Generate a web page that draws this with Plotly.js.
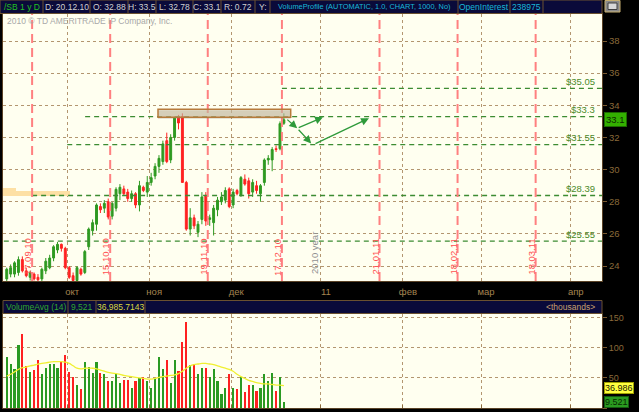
<!DOCTYPE html>
<html><head><meta charset="utf-8">
<script src="https://cdn.plot.ly/plotly-3.0.1.min.js"></script>
<style>html,body{margin:0;padding:0;background:#000;}#chart{width:639px;height:412px;}</style>
</head><body><div id="chart"></div>
<script>
// ---------- data ----------
const dates = ['2010-09-09','2010-09-10','2010-09-13','2010-09-14','2010-09-15','2010-09-16','2010-09-17','2010-09-20','2010-09-21','2010-09-22','2010-09-23','2010-09-24','2010-09-27','2010-09-28','2010-09-29','2010-09-30',
'2010-10-01','2010-10-04','2010-10-05','2010-10-06','2010-10-07','2010-10-08','2010-10-11','2010-10-12','2010-10-13','2010-10-14','2010-10-15','2010-10-18','2010-10-19','2010-10-20','2010-10-21','2010-10-22','2010-10-25','2010-10-26','2010-10-27','2010-10-28','2010-10-29',
'2010-11-01','2010-11-02','2010-11-03','2010-11-04','2010-11-05','2010-11-08','2010-11-09','2010-11-10','2010-11-11','2010-11-12','2010-11-15','2010-11-16','2010-11-17','2010-11-18','2010-11-19','2010-11-22','2010-11-23','2010-11-24','2010-11-26','2010-11-29','2010-11-30',
'2010-12-01','2010-12-02','2010-12-03','2010-12-06','2010-12-07','2010-12-08','2010-12-09','2010-12-10','2010-12-13','2010-12-14','2010-12-15','2010-12-16','2010-12-17','2010-12-20'];
const open = [23.2,23.5,23.5,23.6,24.4,23.7,23.3,23.5,23.3,23.2,23.7,23.9,24.5,25.0,25.35,25.1,
23.9,23.4,23.1,23.8,23.6,25.2,26.2,26.6,27.7,27.6,28.0,27.1,27.6,28.5,28.8,28.6,28.2,28.5,27.8,28.9,28.6,
29.2,29.6,30.2,30.5,31.8,30.6,32.0,33.2,33.3,29.2,26.3,27.0,26.1,26.9,28.4,26.9,26.7,27.5,28.0,28.1,28.8,
27.8,28.7,28.4,29.4,29.3,28.6,29.0,28.5,29.2,30.6,30.6,31.3,31.3,32.88];
const high = [23.9,24.1,24.3,24.6,24.6,23.9,23.7,23.6,23.5,23.9,24.5,24.7,25.3,25.5,25.4,25.2,
24.0,23.6,24.0,23.9,25.0,26.4,26.9,27.9,27.9,28.1,28.2,28.0,28.9,29.1,29.0,28.8,28.7,28.6,29.3,29.0,29.6,
29.8,30.4,30.9,31.8,32.3,32.2,33.3,33.4,33.5,29.3,27.6,27.2,26.8,28.6,28.6,27.2,27.8,28.3,28.6,28.9,28.9,
28.8,28.8,29.6,29.7,29.5,29.4,29.3,29.1,30.7,30.9,31.4,31.5,33.0,33.5];
const low = [23.0,23.3,23.3,23.4,23.6,23.3,23.1,23.1,23.0,23.0,23.5,23.8,24.3,24.8,24.9,23.8,
23.2,23.0,23.0,23.4,23.5,25.0,25.9,26.2,27.3,27.3,26.9,26.9,27.4,28.1,28.4,28.0,28.0,27.6,27.4,28.6,28.3,
29.0,29.4,29.8,30.3,30.4,30.4,31.8,32.5,29.2,26.2,25.9,26.3,25.8,26.6,26.5,26.5,25.9,27.1,27.8,27.9,27.6,
27.6,28.4,28.3,29.0,28.2,28.3,28.5,28.0,29.0,30.3,29.9,31.1,31.2,32.78];
const close = [23.8,23.9,24.2,24.4,23.7,23.4,23.6,23.2,23.15,23.8,24.3,24.5,25.2,25.35,25.1,23.9,
23.3,23.1,23.9,23.5,24.9,26.3,26.7,27.8,27.5,27.9,27.05,27.9,28.77,28.9,28.5,28.2,28.5,27.8,29.0,28.7,29.2,
29.5,30.2,30.7,31.6,30.5,32.0,33.2,32.9,29.2,26.3,27.0,26.5,26.6,28.3,26.8,27.0,27.6,28.1,28.3,28.7,27.7,
28.6,28.5,29.5,29.1,28.5,29.2,28.7,29.0,30.6,30.7,31.25,31.25,32.86,33.1];
const volume = [84,73,65,105,122,70,60,63,80,57,67,73,73,67,76,88,
59,51,38,32,76,68,58,76,58,56,44,44,57,42,47,47,34,44,50,51,44,
34,50,84,64,79,41,79,61,109,142,72,73,57,66,67,51,65,44,24,34,57,
34,32,52,27,38,38,28,34,57,45,58,28,51,9.521];
const volumeAvg = [53,56,60,64,67,68,70,71,73,74,75,76,77,77,77,76,
74,70,66,65,66,66,66,65,63,61,59,58,57,56,54,53,52,51,50,49,48,
48,49,51,52,53,54,55,57,61,66,70,72,73,74,74,73,72,70,68,66,64,
61,56,52,49,46,44,42,41,40,40,39,38,38,37];
const levels = [35.05, 33.3, 31.55, 28.39, 25.55];
const levelLabels = ['$35.05','$33.3','$31.55','$28.39','$25.55'];
const levelStarts = ['2010-12-20','2010-10-07 14:00','2010-10-01','2010-09-17 23:59','2010-09-08 18:00'];
const expiries = ['2010-09-17','2010-10-15','2010-11-19','2010-12-17','2011-01-21','2011-02-18','2011-03-18'];
const expiryLabels = ['17.09.10','15.10.10','19.11.10','17.12.10','21.01.11','18.02.11','18.03.11'];
const monthTicks = ['2010-10-01','2010-11-01','2010-12-01','2011-01-03','2011-02-01','2011-03-01','2011-04-01'];
const monthLabels = ['окт','ноя','дек','11','фев','мар','апр'];
const priceTicks = [24,26,28,30,32,34,36,38];
const volTicks = [0,50,100,150];
const profilePrice = [28.765, 28.505];
const profileSize = [2.2, 11.2];
const zoneLow = 33.25, zoneHigh = 33.75, zoneStart = '2010-11-03 06:00', zoneEnd = '2010-12-22 06:00';
// projected path arrows: [fromDate, fromPrice, toDate, toPrice]
const arrowFrom = [['2010-12-21 00:00',33.19],['2010-12-23 22:00',32.57],['2010-12-23 22:00',32.57],['2010-12-30 05:00',31.57]];
const arrowTo   = [['2010-12-23 22:00',32.57],['2011-01-03 12:00',33.25],['2010-12-29 12:00',31.63],['2011-01-19 07:00',33.19]];
const lastPrice = '33.1', avgLabel = '36.986', lastVolLabel = '9.521';

// ---------- geometry helpers (pixels -> paper) ----------
const W = 639, H = 412;
const X = p => p / W, Y = p => 1 - p / H;
const xRange = ['2010-09-08 13:00', '2011-04-13 00:00'];
const breaks = [{bounds: ['sat', 'mon']}, {values: ['2010-11-25']}];
const FONT = 'Liberation Sans, Arial, sans-serif';
const brown = '#a0804c';
const gridCol = '#b39670';

const xdates = dates.map(d => d + ' 12:00');

const traces = [
  {type: 'candlestick', x: xdates, open: open, high: high, low: low, close: close,
   xaxis: 'x', yaxis: 'y', whiskerwidth: 0,
   increasing: {line: {color: '#2f9a22', width: 1}, fillcolor: '#2f9a22'},
   decreasing: {line: {color: '#ff2222', width: 1}, fillcolor: '#ff2222'},
   hoverinfo: 'skip', showlegend: false},
  {type: 'bar', orientation: 'h', x: profileSize, y: profilePrice, width: [0.23, 0.29],
   xaxis: 'x3', yaxis: 'y', marker: {color: '#fde0a4', line: {width: 0}}, hoverinfo: 'skip', showlegend: false},
  {type: 'bar', x: xdates, y: volume, xaxis: 'x2', yaxis: 'y2', width: 0.55 * 86400000,
   marker: {color: close.map((c, i) => c >= open[i] ? '#2a9a22' : '#ff2020'), line: {width: 0}},
   hoverinfo: 'skip', showlegend: false},
  {type: 'scatter', mode: 'lines', x: xdates, y: volumeAvg, xaxis: 'x2', yaxis: 'y2',
   line: {color: '#f0f030', width: 1.3, shape: 'spline'}, hoverinfo: 'skip', showlegend: false}
];

const shapes = [];
const annotations = [];

// header bar
shapes.push({type: 'rect', xref: 'paper', yref: 'paper', x0: X(0), x1: X(602), y0: Y(0), y1: Y(13.5), fillcolor: '#0a0a3a', line: {color: '#6a5030', width: 1}, layer: 'above'});
[43, 90, 128, 156, 193, 221, 255, 270, 458, 510, 543].forEach(px => shapes.push({type: 'line', xref: 'paper', yref: 'paper', x0: X(px), x1: X(px), y0: Y(0), y1: Y(13.5), line: {color: '#6a5030', width: 1}, layer: 'above'}));
const headCells = [['/SB 1 y D', 22, '#22c022', 8.5], ['D: 20.12.10', 67, '#d0d0d0', 8.5], ['O: 32.88', 109, '#d0d0d0', 8.5], ['H: 33.5', 142, '#d0d0d0', 8.5], ['L: 32.78', 174.5, '#d0d0d0', 8.5], ['C: 33.1', 207, '#d0d0d0', 8.5], ['R: 0.72', 238, '#d0d0d0', 8.5], ['Y:', 262.5, '#d0d0d0', 8.5], ['VolumeProfile (AUTOMATIC, 1.0, CHART, 1000, No)', 364, '#18b8d8', 7.4], ['OpenInterest', 484, '#18b8d8', 8.5], ['238975', 526.5, '#18b8d8', 8.5]];
headCells.forEach(c => annotations.push({xref: 'paper', yref: 'paper', x: X(c[1]), y: Y(7), text: c[0], showarrow: false, xanchor: 'center', yanchor: 'middle', font: {family: FONT, size: c[3], color: c[2]}}));
// settings icon
shapes.push({type: 'rect', xref: 'paper', yref: 'paper', x0: X(605), x1: X(620), y0: Y(0.5), y1: Y(12), fillcolor: '#8a8a8a', line: {color: '#c8b070', width: 1}});
shapes.push({type: 'rect', xref: 'paper', yref: 'paper', x0: X(608), x1: X(617), y0: Y(3), y1: Y(9.5), fillcolor: '#d8d8d8', line: {color: '#404040', width: 1}});

// watermark
annotations.push({xref: 'paper', yref: 'paper', x: X(5), y: Y(21), text: '2010 © TD AMERITRADE IP Company, Inc.', showarrow: false, xanchor: 'left', yanchor: 'middle', font: {family: FONT, size: 8.5, color: '#a8a8a8'}});

// level lines
levels.forEach((lv, i) => {
  shapes.push({type: 'line', xref: 'x', yref: 'y', x0: levelStarts[i], x1: xRange[1], y0: lv, y1: lv, line: {color: '#3c8c32', width: 1.3, dash: '5px,4px'}});
  annotations.push({xref: 'paper', yref: 'y', x: X(597), y: lv, yshift: 7, text: levelLabels[i], showarrow: false, xanchor: 'right', yanchor: 'middle', font: {family: FONT, size: 9.5, color: '#4a8a2a'}});
});
// expiration lines
expiries.forEach((d, i) => {
  shapes.push({type: 'line', xref: 'x', yref: 'y domain', x0: d + ' 23:59', x1: d + ' 23:59', y0: 0, y1: 1, line: {color: '#ff8080', width: 2, dash: '9px,5px'}});
  annotations.push({xref: 'x', yref: 'paper', x: d + ' 23:59', xshift: -5, y: Y(257), text: expiryLabels[i], textangle: -90, showarrow: false, xanchor: 'center', yanchor: 'middle', font: {family: FONT, size: 9.5, color: '#ff5050'}});
});
annotations.push({xref: 'x', yref: 'paper', x: '2011-01-03', xshift: -6, y: Y(253), text: '2010 year', textangle: -90, showarrow: false, font: {family: FONT, size: 9.5, color: '#909090'}});

// zone rectangle
shapes.push({type: 'rect', xref: 'x', yref: 'y', x0: zoneStart, x1: zoneEnd, y0: zoneLow - 0.08, y1: zoneHigh - 0.08, fillcolor: 'rgba(120,110,90,0.25)', line: {width: 0}});
shapes.push({type: 'rect', xref: 'x', yref: 'y', x0: zoneStart, x1: zoneEnd, y0: zoneLow, y1: zoneHigh, fillcolor: 'rgba(205,195,170,0.55)', line: {color: '#b77a3a', width: 1.5}});

// arrows
arrowFrom.forEach((f, i) => annotations.push({xref: 'x', yref: 'y', axref: 'x', ayref: 'y', x: arrowTo[i][0], y: arrowTo[i][1], ax: f[0], ay: f[1], text: '', showarrow: true, arrowhead: 2, arrowsize: 1.2, arrowwidth: 1.3, arrowcolor: '#2e9a3a'}));

// price badge
annotations.push({xref: 'paper', yref: 'y', x: X(604), y: 33.1, text: lastPrice, showarrow: false, xanchor: 'left', yanchor: 'middle', bgcolor: '#33b000', bordercolor: '#1c6a00', borderwidth: 1, borderpad: 1, font: {family: FONT, size: 9.5, color: '#0c2a00'}});

// volume header
shapes.push({type: 'rect', xref: 'paper', yref: 'paper', x0: X(3), x1: X(602), y0: Y(300.5), y1: Y(313.5), fillcolor: '#0a0a3a', line: {color: '#6a5030', width: 1}});
[68, 96, 145].forEach(px => shapes.push({type: 'line', xref: 'paper', yref: 'paper', x0: X(px), x1: X(px), y0: Y(300.5), y1: Y(313.5), line: {color: '#6a5030', width: 1}}));
[['VolumeAvg (14)', 35.5, '#30a830', 'center'], ['9,521', 82, '#30a830', 'center'], ['36,985.7143', 120.5, '#d8d840', 'center'], ['<thousands>', 597, '#c8a070', 'right']].forEach(c =>
  annotations.push({xref: 'paper', yref: 'paper', x: X(c[1]), y: Y(307), text: c[0].replace('<', '&lt;').replace('>', '&gt;'), showarrow: false, xanchor: c[3], yanchor: 'middle', font: {family: FONT, size: 8.5, color: c[2]}}));
annotations.push({xref: 'paper', yref: 'y2', x: X(604), y: 36.986, yshift: -2, text: avgLabel, showarrow: false, xanchor: 'left', yanchor: 'middle', bgcolor: '#ffff40', bordercolor: '#a0a000', borderwidth: 1, borderpad: 0, font: {family: FONT, size: 9, color: '#202000'}});
annotations.push({xref: 'paper', yref: 'paper', x: X(604), y: Y(402), text: lastVolLabel, showarrow: false, xanchor: 'left', yanchor: 'middle', bgcolor: '#2a9a20', bordercolor: '#145a10', borderwidth: 1, borderpad: 0, font: {family: FONT, size: 9, color: '#062a00'}});

const layout = {
  width: W, height: H,
  margin: {l: 0, r: 0, t: 0, b: 0, pad: 0},
  paper_bgcolor: '#000000', plot_bgcolor: '#fffff0',
  showlegend: false, hovermode: false, dragmode: false,
  font: {family: FONT, color: brown},
  xaxis: {type: 'date', domain: [X(3), X(602)], range: xRange, rangebreaks: breaks, anchor: 'y',
    tickvals: monthTicks, ticktext: monthLabels, ticks: '', ticklabelshift: 5, ticklabelstandoff: 2,
    tickfont: {family: FONT, size: 9.5, color: '#a58450'},
    showgrid: true, gridcolor: gridCol, griddash: 'dot', gridwidth: 1,
    showline: true, mirror: true, linecolor: '#5a4226', linewidth: 1, zeroline: false,
    rangeslider: {visible: false}, fixedrange: true},
  yaxis: {domain: [Y(281), Y(14)], range: [23.07, 39.68], side: 'right', anchor: 'x',
    tickvals: priceTicks, ticks: 'outside', ticklen: 4, tickcolor: '#7a5a30',
    tickfont: {family: FONT, size: 9.5, color: '#8a6a3a'},
    showgrid: true, gridcolor: gridCol, griddash: 'dot', gridwidth: 1,
    showline: true, mirror: true, linecolor: '#5a4226', zeroline: false, fixedrange: true},
  xaxis3: {overlaying: 'x', anchor: 'y', domain: [X(3), X(602)], range: [0, 100], visible: false, fixedrange: true},
  xaxis2: {type: 'date', domain: [X(3), X(602)], range: xRange, rangebreaks: breaks, anchor: 'y2',
    tickvals: monthTicks, showticklabels: false, ticks: 'inside', ticklen: 3, tickcolor: '#8a6a3a',
    showgrid: true, gridcolor: gridCol, griddash: 'dot', gridwidth: 1,
    showline: true, mirror: true, linecolor: '#5a4226', zeroline: false, fixedrange: true},
  yaxis2: {domain: [Y(408), Y(314)], range: [0, 156], side: 'right', anchor: 'x2',
    tickvals: volTicks, ticks: 'outside', ticklen: 4, tickcolor: '#7a5a30',
    tickfont: {family: FONT, size: 9, color: '#8a6a3a'},
    showgrid: true, gridcolor: gridCol, griddash: 'dot', gridwidth: 1,
    showline: true, mirror: true, linecolor: '#5a4226', zeroline: false, fixedrange: true},
  bargap: 0,
  shapes: shapes, annotations: annotations
};

Plotly.newPlot('chart', traces, layout, {displayModeBar: false, staticPlot: true});
</script></body></html>
